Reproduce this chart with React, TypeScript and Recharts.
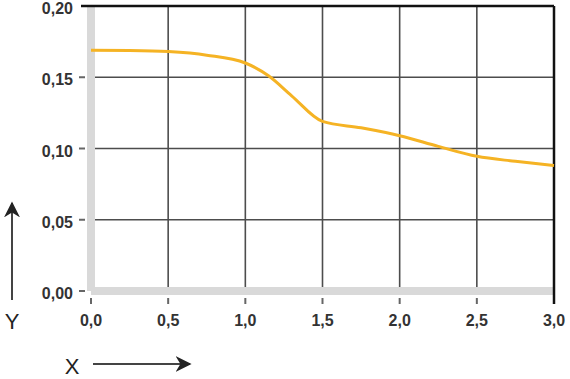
import { LineChart, Line, XAxis, YAxis, CartesianGrid, ReferenceLine } from 'recharts';

// values
const xValues = [0, 0.25, 0.5, 0.75, 1.0, 1.15, 1.3, 1.5, 1.75, 2.0, 2.25, 2.5, 2.75, 3.0];
const yValues = [0.169, 0.1688, 0.168, 0.1655, 0.16, 0.151, 0.137, 0.119, 0.1145, 0.109, 0.1015, 0.0945, 0.091, 0.088];
const xTicks = [0, 0.5, 1, 1.5, 2, 2.5, 3];
const yTicks = [0, 0.05, 0.1, 0.15, 0.2];

const FONT = '"Liberation Sans", Arial, Helvetica, sans-serif';

const XTick = ({ x, y, payload }: any) => {
  const last = payload.value === 3;
  return (
    <g>
      {last ? (
        <line x1={x} x2={x} y1={y} y2={y + 13} stroke="#111" strokeWidth={2.5} />
      ) : (
        <line x1={x} x2={x} y1={y + 7} y2={y + 13} stroke="#666" strokeWidth={2} />
      )}
      <text x={x} y={y + 35} textAnchor="middle" fill="#333" fontSize={16} fontWeight="bold" fontFamily={FONT}>
        {payload.value.toFixed(1).replace('.', ',')}
      </text>
    </g>
  );
};

const YTick = ({ x, y, payload }: any) => {
  const top = payload.value === 0.2;
  return (
    <g>
      {top ? (
        <line x1={x - 10} x2={x} y1={y} y2={y} stroke="#111" strokeWidth={2.5} />
      ) : (
        <line x1={x - 12} x2={x - 6} y1={y} y2={y} stroke="#666" strokeWidth={2} />
      )}
      <text x={x - 18} y={y + 8} textAnchor="end" fill="#333" fontSize={16} fontWeight="bold" fontFamily={FONT}>
        {payload.value.toFixed(2).replace('.', ',')}
      </text>
    </g>
  );
};

export default function App() {
  const data = xValues.map((x, i) => ({ x, y: yValues[i] }));

  return (
    <div style={{ position: 'absolute', left: 0, top: 0, width: 570, height: 379, background: '#fff' }}>
      <LineChart width={570} height={379} data={data} margin={{ top: 6, right: 16, bottom: 0, left: 0 }}>
        <CartesianGrid stroke="#4d4d4d" strokeWidth={1.6} />
        <XAxis
          dataKey="x"
          type="number"
          domain={[0, 3]}
          ticks={xTicks}
          height={88}
          axisLine={false}
          tickLine={false}
          tickSize={0}
          tickMargin={0}
          tick={<XTick />}
          interval={0}
        />
        <YAxis
          type="number"
          domain={[0, 0.2]}
          ticks={yTicks}
          width={91}
          axisLine={false}
          tickLine={false}
          tickSize={0}
          tickMargin={0}
          tick={<YTick />}
          interval={0}
        />
        <ReferenceLine x={0} stroke="#d9d9d9" strokeWidth={8} />
        <ReferenceLine y={0} stroke="#d9d9d9" strokeWidth={8} />
        <ReferenceLine y={0.2} stroke="#111" strokeWidth={2.5} />
        <ReferenceLine x={3} stroke="#111" strokeWidth={2.5} />
        <Line
          dataKey="y"
          type="monotone"
          stroke="#f5b324"
          strokeWidth={3}
          dot={false}
          isAnimationActive={false}
        />
      </LineChart>
      <svg width={570} height={379} style={{ position: 'absolute', left: 0, top: 0, pointerEvents: 'none' }}>
        <defs>
          <marker id="arrow" viewBox="0 0 10 10" refX="9" refY="5" markerWidth="8" markerHeight="8" orient="auto">
            <path d="M0,0 L10,5 L0,10 L3,5 z" fill="#222" />
          </marker>
        </defs>
        <line x1={12} y1={300} x2={12} y2={203} stroke="#444" strokeWidth={2} markerEnd="url(#arrow)" />
        <text x={12} y={329} textAnchor="middle" fill="#222" fontSize={22} fontFamily={FONT}>Y</text>
        <line x1={93} y1={364} x2={190} y2={364} stroke="#444" strokeWidth={2} markerEnd="url(#arrow)" />
        <text x={72} y={374} textAnchor="middle" fill="#222" fontSize={22} fontFamily={FONT}>X</text>
      </svg>
    </div>
  );
}
